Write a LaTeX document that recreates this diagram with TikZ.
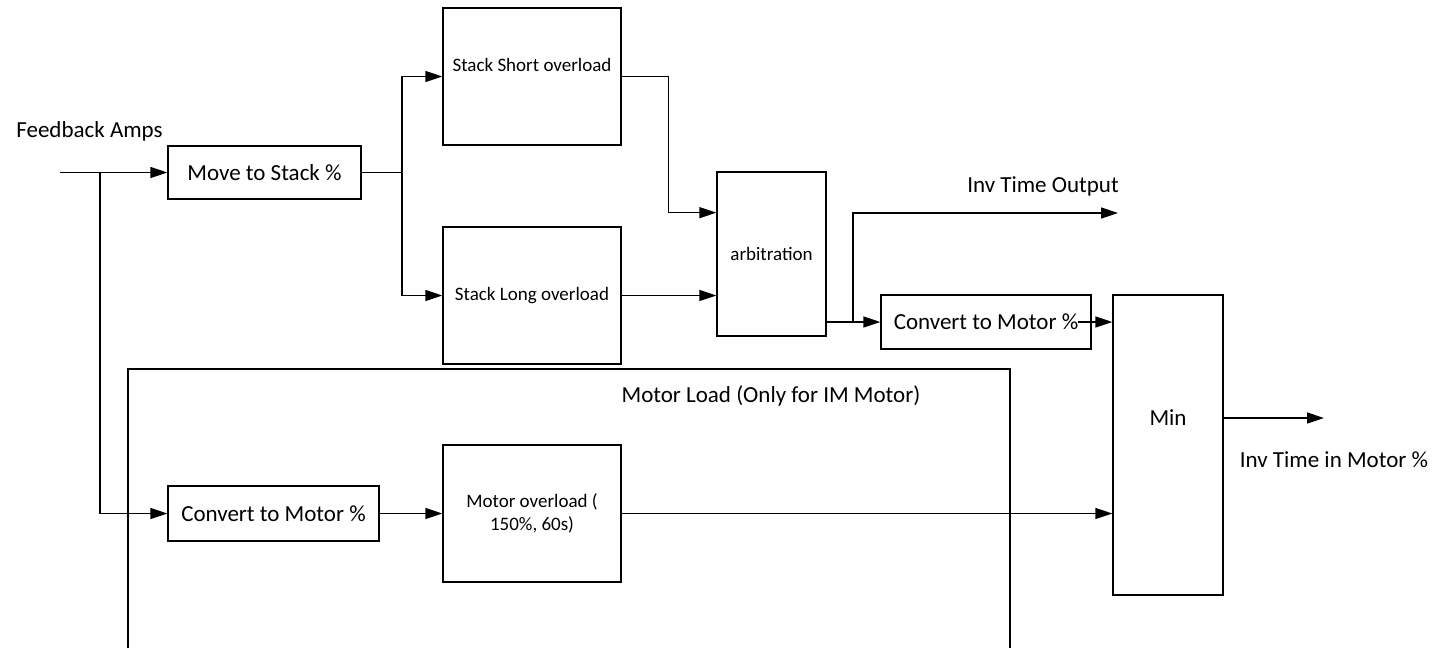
\documentclass[tikz,border=0pt]{standalone}
\usepackage{fontspec}
\setmainfont{Carlito}
\usepackage{tikz}
\usetikzlibrary{positioning, calc, arrows.meta}

\begin{document}
\begin{tikzpicture}[
  x=1pt, y=-1pt,
  every node/.style={font=\fontsize{23}{27}\selectfont},
  small/.style={font=\fontsize{19}{23}\selectfont},
  box/.style={draw, line width=1.4pt, inner sep=0pt},
  ln/.style={line width=1.4pt},
  arr/.style={line width=1.4pt, -{Triangle[length=17pt, width=11pt]}},
]
\useasboundingbox (0,0) rectangle (1434,648);

% Motor load area (open at the bottom)
\draw[ln] (128,648) |- (1010,369) -- (1010,648);
\node (loadlbl) at (771,396) {Motor Load (Only for IM Motor)};

% Blocks
\node[box, minimum width=193pt, minimum height=53pt] (move) at (264.5,172.5) {Move to Stack \%};
\node[box, minimum width=178pt, minimum height=137pt] (short) at (532,76.5) {};
\node[small] (shortlbl) at (532,65) {Stack Short overload};
\node[box, small, minimum width=178pt, minimum height=137pt] (long) at (532,295.5) {Stack Long overload};
\node[box, small, minimum width=109pt, minimum height=164pt] (arb) at (771.5,254) {arbitration};
\node[box, minimum width=210pt, minimum height=54pt] (conv1) at (986,322) {Convert to Motor \%};
\node[box, minimum width=110pt, minimum height=300pt] (minbox) at (1168,445) {};
\node (minlbl) at (1168,418) {Min};
\node[box, minimum width=211pt, minimum height=55pt] (conv2) at (273.5,513.5) {Convert to Motor \%};
\node[box, small, align=center, minimum width=178pt, minimum height=137pt] (mover) at (532,513.5) {Motor overload (\\150\%, 60s)};

% Free texts
\node (fblbl) at (89.5,131) {Feedback Amps};
\node (outlbl) at (1043,186) {Inv Time Output};
\node (motlbl) at (1334,460) {Inv Time in Motor \%};

% Connection points
\coordinate (in) at (60,172.5);
\coordinate (br) at (100,172.5);
\coordinate (j1) at (402,172.5);
\coordinate (arbin1) at ($(arb.north west)!0.25!(arb.south west)$);
\coordinate (arbin2) at (arb.west |- long.east);
\coordinate (arbout) at (arb.east |- conv1.west);
\coordinate (j2) at (853,322);
\coordinate (outend) at (1118,213);
\coordinate (minout) at (1324,418);

% Signal flow
\draw[arr] (in) -- (move.west);
\draw[arr] (br) |- (conv2.west);
\draw[ln] (move.east) -- (j1);
\draw[arr] (j1) |- (short.west);
\draw[arr] (j1) |- (long.west);
\draw[arr] (short.east) -- ++(47,0) |- (arbin1);
\draw[arr] (long.east) -- (arbin2);
\draw[arr] (arbout) -- (conv1.west);
\draw[arr] (j2) |- (outend);
\draw[arr] ($(conv1.east)+(-14,0)$) -- (minbox.west |- conv1.east);
\draw[arr] (conv2.east) -- (mover.west);
\draw[arr] (mover.east) -- (minbox.west |- mover.east);
\draw[arr] (minbox.east |- minlbl) -- (minout);
\end{tikzpicture}
\end{document}
